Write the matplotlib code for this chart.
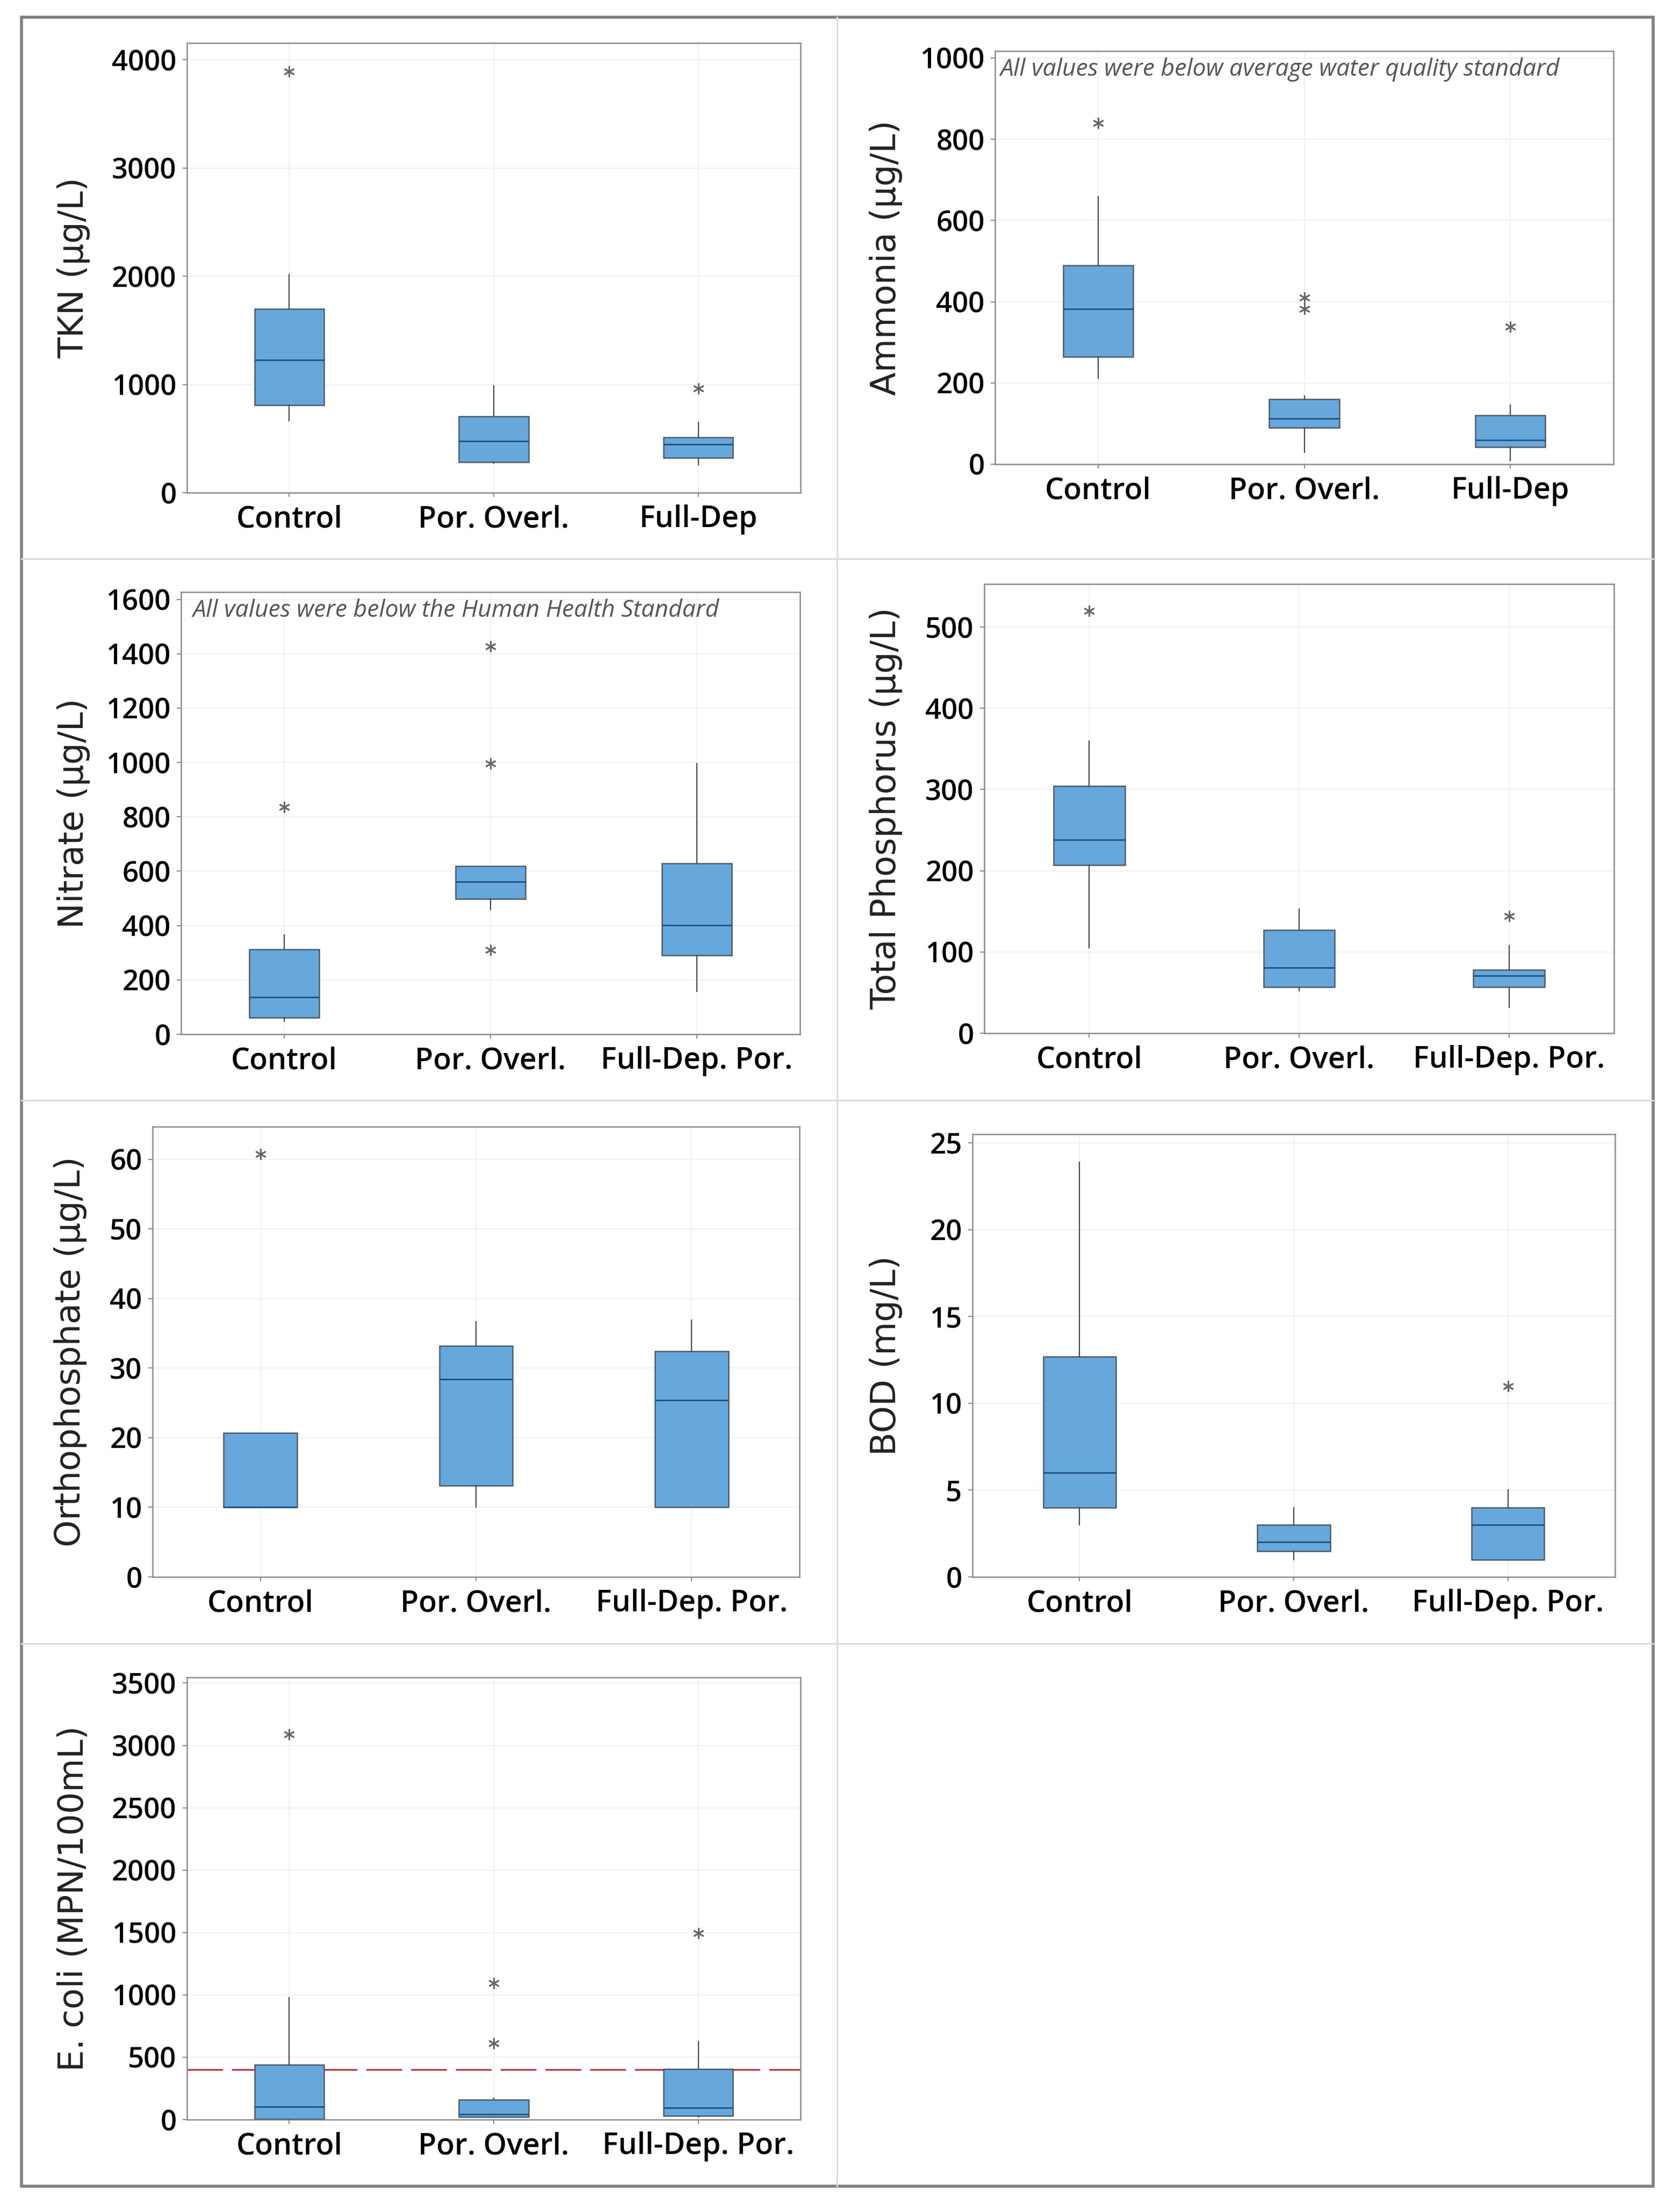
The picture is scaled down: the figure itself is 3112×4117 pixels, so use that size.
import matplotlib
matplotlib.use("Agg")
import matplotlib.pyplot as plt
from matplotlib.patches import Rectangle
from matplotlib.lines import Line2D

plt.rcParams['lines.scale_dashes'] = False

W, H = 3112, 4117

categories_short = ["Control", "Por. Overl.", "Full-Dep"]
categories_long = ["Control", "Por. Overl.", "Full-Dep. Por."]

# ---------------- data (q1, median, q3, whisker low, whisker high, outliers) ----
tkn_q1 = [808, 283, 322]
tkn_med = [1226, 477, 447]
tkn_q3 = [1696, 707, 513]
tkn_lo = [667, 273, 256]
tkn_hi = [2015, 986, 651]
tkn_out = [[3895], [], [963]]

amm_q1 = [264, 90, 42]
amm_med = [382, 112, 60]
amm_q3 = [489, 160, 121]
amm_lo = [211, 29, 9]
amm_hi = [659, 168, 145]
amm_out = [[840], [410, 382], [339]]

nit_q1 = [61, 498, 290]
nit_med = [136, 562, 401]
nit_q3 = [312, 619, 628]
nit_lo = [48, 459, 159]
nit_hi = [366, 619, 997]
nit_out = [[836], [1428, 997, 310], []]

tp_q1 = [207, 57, 57]
tp_med = [238, 81, 71]
tp_q3 = [304, 127, 78]
tp_lo = [105, 52, 32]
tp_hi = [360, 153, 108]
tp_out = [[520], [], [144]]

op_q1 = [10, 13.1, 10]
op_med = [10, 28.4, 25.4]
op_q3 = [20.7, 33.2, 32.4]
op_lo = [10, 10, 10]
op_hi = [20.7, 36.7, 36.9]
op_out = [[60.8], [], []]

bod_q1 = [4, 1.5, 1]
bod_med = [6, 2, 3]
bod_q3 = [12.7, 3, 4]
bod_lo = [3, 1, 1]
bod_hi = [23.9, 4, 5]
bod_out = [[], [], [11]]

eco_q1 = [6, 20, 29]
eco_med = [102, 44, 93]
eco_q3 = [441, 160, 407]
eco_lo = [0, 20, 20]
eco_hi = [979, 174, 624]
eco_out = [[3090], [1095, 610], [1493]]
eco_standard = 400

# ---------------- styling ----------------
BOX_FILL = "#67a8dc"
BOX_EDGE = "#4d5a68"
MED_COL = "#1f4f7a"
SPINE = "#8c8c8c"
GRID = "#efefef"
TICKFONT = ["Open Sans", "DejaVu Sans"]
LABFONT = ["DejaVu Sans"]

fig = plt.figure(figsize=(W / 100, H / 100), dpi=100)


def make_axes(l, r, t, b):
    return fig.add_axes([l / W, 1 - b / H, (r - l) / W, (b - t) / H])


def panel(rect, q1, med, q3, lo, hi, out, cats, ylim, yticks, ylabel, label_x,
          note=None, note_dx=0.01):
    ax = make_axes(*rect)
    stats = []
    for i in range(3):
        stats.append(dict(med=med[i], q1=q1[i], q3=q3[i], whislo=lo[i],
                          whishi=hi[i], fliers=out[i]))
    ax.bxp(stats, positions=[1, 2, 3], widths=0.34, patch_artist=True,
           showcaps=False, zorder=3,
           boxprops=dict(facecolor=BOX_FILL, edgecolor=BOX_EDGE, linewidth=1.8),
           medianprops=dict(color=MED_COL, linewidth=2.0),
           whiskerprops=dict(color="#4a4a4a", linewidth=1.6),
           flierprops=dict(marker=(6, 2, 0), markersize=15, markerfacecolor="#666666",
                           markeredgecolor="#666666", markeredgewidth=2.0,
                           linestyle="none"))
    ax.set_xlim(0.5, 3.5)
    ax.set_ylim(*ylim)
    ax.set_yticks(yticks)
    ax.set_xticks([1, 2, 3])
    ax.set_xticklabels(cats, fontfamily=TICKFONT, fontsize=40, fontweight="semibold")
    ax.set_yticklabels([str(v) for v in yticks], fontfamily=TICKFONT, fontsize=38,
                       fontweight="semibold")
    ax.tick_params(axis="both", direction="out", length=6, width=1.5, color=SPINE)
    ax.tick_params(axis="y", pad=8)
    ax.tick_params(axis="x", pad=10)
    for s in ax.spines.values():
        s.set_color(SPINE)
        s.set_linewidth(1.8)
    ax.grid(True, color=GRID, linewidth=1.2, zorder=0)
    ax.set_axisbelow(True)
    yc = (rect[2] + rect[3]) / 2
    fig.text(label_x / W, 1 - yc / H, ylabel, rotation=90, ha="center", va="center",
             fontfamily=LABFONT, fontsize=46, color="#222222")
    if note:
        ax.text(note_dx, 0.985, note, transform=ax.transAxes, ha="left", va="top",
                fontfamily=TICKFONT, fontstyle="italic", fontsize=32, color="#555555",
                zorder=5)
    return ax


panel((348, 1490, 80, 917), tkn_q1, tkn_med, tkn_q3, tkn_lo, tkn_hi, tkn_out,
      categories_short, (0, 4156), [0, 1000, 2000, 3000, 4000], "TKN (µg/L)", 137)

panel((1852, 3003, 95, 864), amm_q1, amm_med, amm_q3, amm_lo, amm_hi, amm_out,
      categories_short, (0, 1017), [0, 200, 400, 600, 800, 1000], "Ammonia (µg/L)", 1649,
      note="All values were below average water quality standard", note_dx=0.008)

panel((337, 1489, 1102, 1925), nit_q1, nit_med, nit_q3, nit_lo, nit_hi, nit_out,
      categories_long, (0, 1627), [0, 200, 400, 600, 800, 1000, 1200, 1400, 1600],
      "Nitrate (µg/L)", 137,
      note="All values were below the Human Health Standard", note_dx=0.019)

panel((1832, 3004, 1087, 1923), tp_q1, tp_med, tp_q3, tp_lo, tp_hi, tp_out,
      categories_long, (0, 553), [0, 100, 200, 300, 400, 500],
      "Total Phosphorus (µg/L)", 1649)

panel((284, 1488, 2097, 2935), op_q1, op_med, op_q3, op_lo, op_hi, op_out,
      categories_long, (0, 64.7), [0, 10, 20, 30, 40, 50, 60],
      "Orthophosphate (µg/L)", 131)

panel((1810, 3006, 2111, 2935), bod_q1, bod_med, bod_q3, bod_lo, bod_hi, bod_out,
      categories_long, (0, 25.5), [0, 5, 10, 15, 20, 25], "BOD (mg/L)", 1649)

ax7 = panel((348, 1490, 3122, 3945), eco_q1, eco_med, eco_q3, eco_lo, eco_hi, eco_out,
            categories_long, (0, 3545), [0, 500, 1000, 1500, 2000, 2500, 3000, 3500],
            "E. coli (MPN/100mL)", 137)
ax7.axhline(eco_standard, color="#c2333d", linewidth=2.2, dashes=(48, 12), zorder=2)

# ---------------- panel dividers and outer frame ----------------
DIV = "#dcdcdc"
fig.add_artist(Line2D([1558 / W, 1558 / W], [1 - 32 / H, 1 - 4069 / H], color=DIV,
                      linewidth=2.2, transform=fig.transFigure))
for yy in [1040, 2048, 3059]:
    fig.add_artist(Line2D([40 / W, 3077 / W], [1 - yy / H, 1 - yy / H], color=DIV,
                          linewidth=2.2, transform=fig.transFigure))
fig.add_artist(Rectangle((40 / W, 1 - 4069 / H), (3077 - 40) / W, (4069 - 32) / H,
                         fill=False, edgecolor="#808080", linewidth=4,
                         transform=fig.transFigure))

fig.savefig("out.png", dpi=100, facecolor="white")
